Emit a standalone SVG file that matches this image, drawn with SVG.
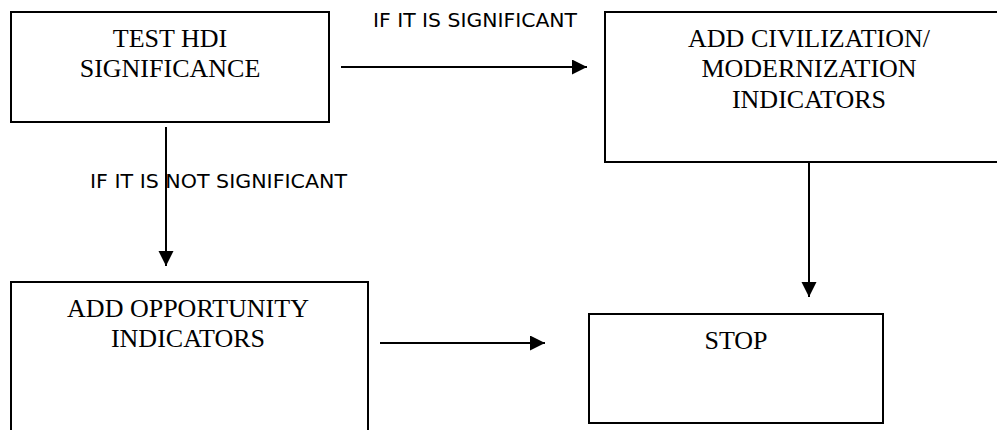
<svg xmlns="http://www.w3.org/2000/svg" width="997" height="430" viewBox="0 0 997 430">
<style>
.box{fill:#fff;stroke:#000;stroke-width:2}
.t{font-family:"Liberation Serif","Times New Roman",serif;font-size:26px;fill:#000;text-anchor:middle}
.lbl{font-family:"DejaVu Sans",Verdana,sans-serif;font-size:20px;fill:#000}
.c{stroke:#000;stroke-width:2;fill:none}
</style>
<defs>
<marker id="ah" markerUnits="userSpaceOnUse" markerWidth="16" markerHeight="16" refX="15" refY="7.5" orient="auto">
<path d="M0,0 L15,7.5 L0,15 Z" fill="#000"/>
</marker>
</defs>
<rect width="997" height="430" fill="#fff"/>
<g id="n1">
<rect class="box" x="11" y="12" width="318" height="110"/>
<text class="t" x="170" y="47">TEST HDI</text>
<text class="t" x="170" y="77">SIGNIFICANCE</text>
</g>
<g id="n2">
<rect class="box" x="605" y="12" width="410" height="150"/>
<text class="t" x="809" y="47">ADD CIVILIZATION/</text>
<text class="t" x="809" y="77">MODERNIZATION</text>
<text class="t" x="809" y="108">INDICATORS</text>
</g>
<g id="n3">
<rect class="box" x="11" y="282" width="357" height="170"/>
<text class="t" x="188" y="317">ADD OPPORTUNITY</text>
<text class="t" x="188" y="347">INDICATORS</text>
</g>
<g id="n4">
<rect class="box" x="589" y="314" width="294" height="109"/>
<text class="t" x="736" y="349">STOP</text>
</g>
<g id="connectors">
<line class="c" x1="341" y1="67" x2="587" y2="67" marker-end="url(#ah)"/>
<line class="c" x1="166" y1="127" x2="166" y2="266" marker-end="url(#ah)"/>
<line class="c" x1="380" y1="343" x2="545" y2="343" marker-end="url(#ah)"/>
<line class="c" x1="809" y1="163" x2="809" y2="297" marker-end="url(#ah)"/>
<text class="lbl" x="373" y="27" textLength="204" lengthAdjust="spacingAndGlyphs">IF IT IS SIGNIFICANT</text>
<text class="lbl" x="90" y="188" textLength="257" lengthAdjust="spacingAndGlyphs">IF IT IS NOT SIGNIFICANT</text>
</g>
</svg>
